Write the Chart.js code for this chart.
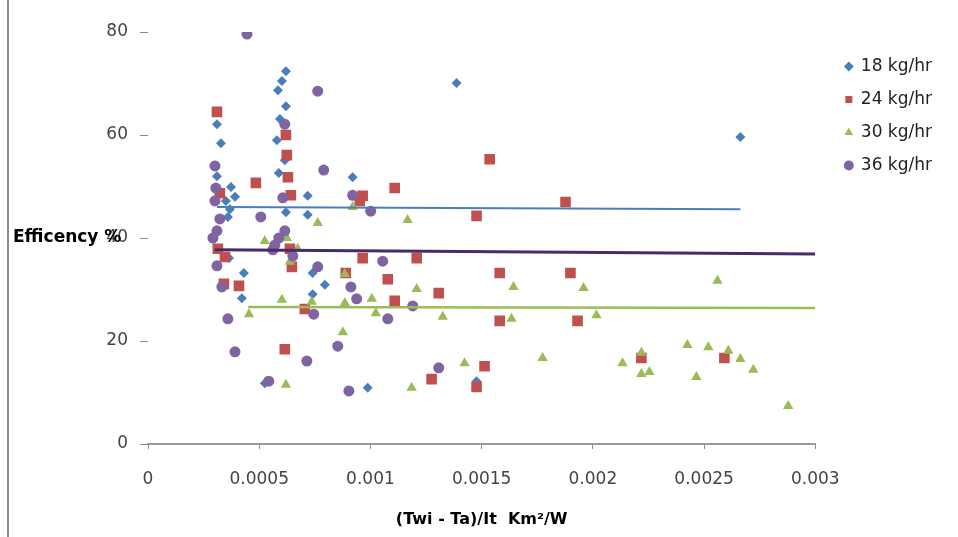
<!DOCTYPE html>
<html>
<head>
<meta charset="utf-8">
<script src="https://cdn.jsdelivr.net/npm/chart.js@4.4.1/dist/chart.umd.min.js"></script>
<style>
  html, body { margin: 0; padding: 0; background: #fff; }
  .wrap { position: relative; width: 958px; height: 537px; }
  .edge { position: absolute; left: 7px; top: 0; bottom: 0; width: 2px; background: #8c8c8c; }
</style>
</head>
<body>
<div class="wrap">
  <div class="edge"></div>
  <canvas id="chart" width="958" height="537"></canvas>
</div>
<script>
// 18 kg/hr
let x18 = [0.00062, 0.000602, 0.000584, 0.00062, 0.000593, 0.00031, 0.000328, 0.000579, 0.000615, 0.000588,
  0.00031, 0.00092, 0.000373, 0.000391, 0.00035, 0.000368, 0.000718, 0.000359, 0.00062, 0.000718,
  0.000364, 0.000431, 0.00074, 0.000795, 0.000422, 0.00074, 0.000525, 0.000988, 0.001477, 0.001387, 0.002663];
let y18 = [72.4, 70.5, 68.7, 65.6, 63.1, 62.1, 58.4, 59.0, 55.1, 52.6,
  52.0, 51.8, 49.9, 48.0, 47.2, 45.6, 48.2, 44.1, 45.0, 44.5,
  36.1, 33.2, 33.2, 30.9, 28.3, 29.1, 11.8, 10.9, 12.2, 70.1, 59.6];

// 24 kg/hr
let x24 = [0.00031, 0.00062, 0.000624, 0.000629, 0.000485, 0.000323, 0.000642, 0.000314, 0.000346, 0.000638,
  0.000647, 0.000341, 0.000409, 0.000705, 0.000615, 0.000965, 0.000952, 0.001109, 0.001536, 0.001477,
  0.000965, 0.001208, 0.000889, 0.001078, 0.001109, 0.001307, 0.001581, 0.001581, 0.001513, 0.001275,
  0.001477, 0.001877, 0.001899, 0.001931, 0.002218, 0.002591];
let y24 = [64.5, 60.0, 56.1, 51.8, 50.7, 48.7, 48.3, 37.9, 36.3, 37.9,
  34.4, 31.1, 30.7, 26.2, 18.4, 48.2, 47.2, 49.7, 55.3, 44.3,
  36.1, 36.1, 33.2, 32.0, 27.8, 29.3, 33.2, 23.9, 15.1, 12.6,
  11.1, 47.0, 33.2, 23.9, 16.7, 16.7];

// 30 kg/hr
let x30 = [0.000763, 0.000525, 0.000624, 0.000673, 0.000638, 0.000885, 0.000602, 0.000736, 0.000885, 0.000454,
  0.000876, 0.00062, 0.00092, 0.001167, 0.001208, 0.001643, 0.001006, 0.001024, 0.001325, 0.001634,
  0.001423, 0.001185, 0.001958, 0.00256, 0.002016, 0.001774, 0.002133, 0.002218, 0.002218, 0.002254,
  0.002425, 0.002519, 0.002609, 0.002663, 0.002465, 0.002721, 0.002878];
let y30 = [42.9, 39.4, 40.0, 37.9, 35.4, 33.0, 28.0, 27.6, 27.4, 25.2,
  21.7, 11.5, 46.0, 43.5, 30.1, 30.5, 28.2, 25.4, 24.7, 24.3,
  15.7, 10.9, 30.3, 31.7, 25.0, 16.7, 15.7, 17.7, 13.6, 14.0,
  19.2, 18.8, 18.1, 16.5, 13.0, 14.4, 7.4];

// 36 kg/hr
let x36 = [0.000445, 0.000763, 0.000615, 0.000301, 0.00079, 0.000305, 0.000301, 0.000606, 0.000323, 0.000507,
  0.00031, 0.000292, 0.000615, 0.000588, 0.00057, 0.000561, 0.000651, 0.00031, 0.000763, 0.000332,
  0.000359, 0.000391, 0.000543, 0.000714, 0.000745, 0.000853, 0.000903, 0.00092, 0.001001, 0.001055,
  0.000912, 0.000938, 0.001078, 0.00119, 0.001307];
let y36 = [79.6, 68.5, 62.1, 54.0, 53.2, 49.7, 47.2, 47.8, 43.7, 44.1,
  41.4, 40.0, 41.4, 40.0, 38.6, 37.7, 36.5, 34.6, 34.4, 30.5,
  24.3, 17.9, 12.2, 16.1, 25.2, 19.0, 10.3, 48.3, 45.2, 35.5,
  30.5, 28.2, 24.3, 26.8, 14.8];

// trend lines (start, end)
let trendX18 = [0.00031, 0.002663];
let trendY18 = [46.0, 45.6];
let trendX36 = [0.0003, 0.003];
let trendY36 = [37.7, 36.9];
let trendX30 = [0.00045, 0.003];
let trendY30 = [26.6, 26.4];

let seriesNames = ["18 kg/hr", "24 kg/hr", "30 kg/hr", "36 kg/hr"];
let xTickLabels = ["0", "0.0005", "0.001", "0.0015", "0.002", "0.0025", "0.003"];
let yTickLabels = ["0", "20", "40", "60", "80"];

let colors = {
  blue: "#4a7ebb",
  red: "#c0504d",
  green: "#9bbb59",
  purple: "#8064a2",
  darkPurple: "#452b6e",
};

const FONT = "'DejaVu Sans', sans-serif";

function pts(xs, ys) {
  return xs.map((x, i) => ({ x: x, y: ys[i] }));
}

function scatterSet(label, xs, ys, color, style, radius, order) {
  return {
    type: "scatter",
    label: label,
    data: pts(xs, ys),
    pointStyle: style,
    pointRadius: radius,
    pointHoverRadius: radius,
    backgroundColor: color,
    borderColor: color,
    borderWidth: 0,
    order: order,
  };
}

function trendSet(xs, ys, color, width) {
  return {
    type: "line",
    label: "trend",
    data: pts(xs, ys),
    borderColor: color,
    borderWidth: width,
    pointRadius: 0,
    fill: false,
    order: 0,
  };
}

// y axis title is horizontal in the original, so draw it ourselves
const yTitle = {
  id: "yTitle",
  afterDraw(chart) {
    const ctx = chart.ctx;
    const y = chart.scales.y.getPixelForValue(40);
    ctx.save();
    ctx.font = "bold 17px " + FONT;
    ctx.fillStyle = "#000";
    ctx.textBaseline = "middle";
    ctx.textAlign = "left";
    ctx.fillText("Efficency %", 13, y);
    ctx.restore();
  },
};

// nudge the legend a bit right and down, chart area stays put
const legendShift = {
  id: "legendShift",
  afterLayout(chart) {
    const lg = chart.legend;
    lg.left += 14;
    lg.right += 14;
    lg.top += 10;
    lg.bottom += 10;
  },
};

const ctx = document.getElementById("chart").getContext("2d");
new Chart(ctx, {
  data: {
    datasets: [
      scatterSet(seriesNames[0], x18, y18, colors.blue, "rectRot", 5, 4),
      scatterSet(seriesNames[1], x24, y24, colors.red, "rect", 7.5, 3),
      scatterSet(seriesNames[2], x30, y30, colors.green, "triangle", 6, 2),
      scatterSet(seriesNames[3], x36, y36, colors.purple, "circle", 5.5, 1),
      trendSet(trendX18, trendY18, colors.blue, 2),
      trendSet(trendX36, trendY36, colors.darkPurple, 3),
      trendSet(trendX30, trendY30, colors.green, 2.5),
    ],
  },
  options: {
    responsive: false,
    animation: false,
    maintainAspectRatio: false,
    layout: { padding: { top: 32, right: 30, left: 0, bottom: 0 } },
    plugins: {
      legend: {
        display: true,
        position: "right",
        align: "start",
        labels: {
          usePointStyle: true,
          boxWidth: 7,
          boxHeight: 7,
          padding: 16,
          color: "#222",
          font: { family: FONT, size: 17 },
          filter: (item) => item.datasetIndex < 4,
          sort: (a, b) => a.datasetIndex - b.datasetIndex,
        },
      },
      tooltip: { enabled: false },
    },
    scales: {
      x: {
        type: "linear",
        min: 0,
        max: 0.003,
        afterBuildTicks: (scale) => {
          scale.ticks = xTickLabels.map((t) => ({ value: parseFloat(t) }));
        },
        afterFit: (scale) => {
          scale.height = 93;
        },
        ticks: {
          color: "#444",
          font: { family: FONT, size: 17 },
          padding: 20,
          maxRotation: 0,
          autoSkip: false,
          callback: (v, i) => xTickLabels[i],
        },
        grid: {
          drawOnChartArea: false,
          drawTicks: true,
          tickLength: 5,
          color: "#8c8c8c",
        },
        border: { display: true, color: "#9a9a9a", width: 2 },
        title: {
          display: true,
          text: "(Twi - Ta)/It  Km²/W",
          color: "#000",
          font: { family: FONT, size: 16, weight: "bold" },
          padding: { top: 4, bottom: 8 },
        },
      },
      y: {
        type: "linear",
        min: 0,
        max: 80,
        afterBuildTicks: (scale) => {
          scale.ticks = yTickLabels.map((t) => ({ value: parseFloat(t) }));
        },
        afterFit: (scale) => {
          scale.width = 148;
        },
        ticks: {
          color: "#444",
          font: { family: FONT, size: 17 },
          padding: 12,
          callback: (v, i) => yTickLabels[i],
        },
        grid: {
          drawOnChartArea: false,
          drawTicks: true,
          tickLength: 8,
          color: "#8c8c8c",
        },
        border: { display: false },
      },
    },
  },
  plugins: [yTitle, legendShift],
});
</script>
</body>
</html>
